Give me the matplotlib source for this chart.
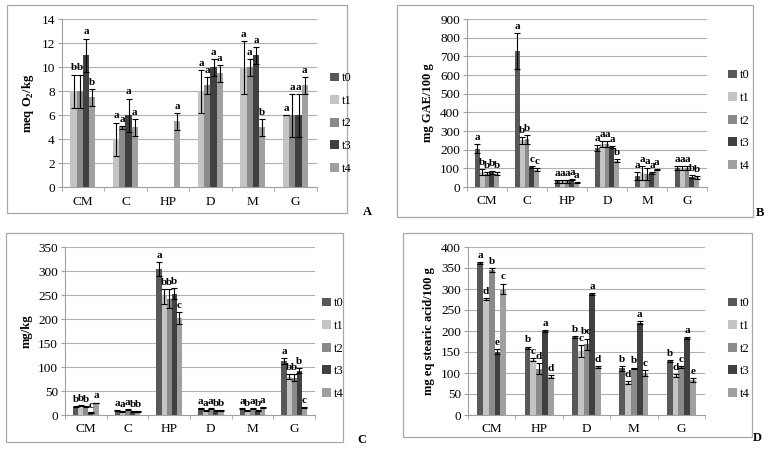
import matplotlib
matplotlib.use("Agg")
import matplotlib.pyplot as plt
import numpy as np
from matplotlib.patches import Rectangle, Patch

plt.rcParams['font.family'] = ['Liberation Serif', 'DejaVu Serif']
plt.rcParams['mathtext.fontset'] = 'custom'
plt.rcParams['mathtext.bf'] = 'Liberation Serif:bold'
plt.rcParams['mathtext.rm'] = 'Liberation Serif'

series = ["t0", "t1", "t2", "t3", "t4"]
colors = {"t0": "#585858", "t1": "#c4c4c4", "t2": "#8a8a8a", "t3": "#404040", "t4": "#a0a0a0"}

# Panel A (t0 not plotted)
cats_A = ["CM", "C", "HP", "D", "M", "G"]
ser_A = ["t1", "t2", "t3", "t4"]
vals_A = {
    "t1": [8, 4, np.nan, 8, 10, 6],
    "t2": [8, 5, np.nan, 8.5, 10, 6],
    "t3": [11, 6, np.nan, 10, 11, 6],
    "t4": [7.5, 5, 5.5, 9.5, 5, 8.5],
}
err_A = {
    "t1": [1.4, 1.4, 0, 1.8, 2.2, 0],
    "t2": [1.4, 0.1, 0, 0.7, 0.7, 1.8],
    "t3": [1.4, 1.4, 0, 0.7, 0.7, 1.8],
    "t4": [0.7, 0.7, 0.7, 0.7, 0.7, 0.7],
}
let_A = {
    "t1": ["b", "a", "", "a", "a", "a"],
    "t2": ["b", "a", "", "a", "a", "a"],
    "t3": ["a", "a", "", "a", "a", "a"],
    "t4": ["b", "a", "a", "a", "b", "a"],
}

# Panel B
cats_B = ["CM", "C", "HP", "D", "M", "G"]
vals_B = {
    "t0": [205, 730, 30, 210, 60, 100],
    "t1": [80, 250, 30, 230, 75, 100],
    "t2": [72, 255, 30, 230, 70, 100],
    "t3": [78, 105, 38, 215, 75, 55],
    "t4": [72, 92, 22, 140, 92, 52],
}
err_B = {
    "t0": [25, 97, 8, 15, 20, 10],
    "t1": [15, 20, 8, 15, 35, 10],
    "t2": [8, 25, 8, 15, 30, 10],
    "t3": [10, 5, 3, 5, 5, 8],
    "t4": [8, 8, 3, 8, 3, 8],
}
let_B = {
    "t0": ["a", "a", "a", "a", "a", "a"],
    "t1": ["b", "b", "a", "a", "a", "a"],
    "t2": ["b", "b", "a", "a", "a", "a"],
    "t3": ["b", "c", "a", "a", "a", "b"],
    "t4": ["b", "c", "a", "b", "a", "b"],
}

# Panel C
cats_C = ["CM", "C", "HP", "D", "M", "G"]
vals_C = {
    "t0": [17, 9, 304, 14, 13, 113],
    "t1": [19, 8, 247, 10, 10, 80],
    "t2": [17, 11, 242, 13, 14, 78],
    "t3": [6, 7, 253, 9, 9, 92],
    "t4": [25, 8, 202, 9, 16, 16],
}
err_C = {
    "t0": [1, 1, 15, 1, 1, 6],
    "t1": [1, 1, 15, 1, 1, 6],
    "t2": [1, 1, 20, 1, 1, 7],
    "t3": [1, 1, 12, 1, 1, 5],
    "t4": [1, 1, 13, 1, 1, 1],
}
let_C = {
    "t0": ["b", "a", "a", "a", "a", "a"],
    "t1": ["b", "a", "b", "a", "b", "b"],
    "t2": ["b", "a", "b", "a", "a", "b"],
    "t3": ["c", "b", "b", "b", "b", "b"],
    "t4": ["a", "b", "c", "b", "a", "c"],
}

# Panel D
cats_D = ["CM", "HP", "D", "M", "G"]
vals_D = {
    "t0": [362, 160, 185, 111, 128],
    "t1": [276, 132, 152, 77, 94],
    "t2": [345, 110, 168, 111, 114],
    "t3": [151, 200, 288, 220, 183],
    "t4": [300, 91, 114, 100, 83],
}
err_D = {
    "t0": [3, 3, 2, 6, 2],
    "t1": [3, 4, 14, 3, 3],
    "t2": [5, 13, 14, 2, 3],
    "t3": [6, 2, 3, 3, 2],
    "t4": [13, 4, 3, 8, 5],
}
let_D = {
    "t0": ["a", "b", "b", "b", "b"],
    "t1": ["d", "c", "c", "d", "d"],
    "t2": ["b", "d", "bc", "b", "c"],
    "t3": ["e", "a", "a", "a", "a"],
    "t4": ["c", "d", "d", "c", "e"],
}

fig = plt.figure(figsize=(7.71, 4.5), dpi=100)
W, H = 771.0, 450.0


def fr(x0, y0, x1, y1):
    return [x0 / W, 1 - y1 / H, (x1 - x0) / W, (y1 - y0) / H]


def border(x0, y0, x1, y1):
    fig.patches.append(Rectangle((x0 / W, 1 - y1 / H), (x1 - x0) / W, (y1 - y0) / H,
                                 transform=fig.transFigure, fill=False,
                                 edgecolor="#a8a8a8", linewidth=0.9))


def panel(rect, cats, sers, vals, errs, lets, ymax, ystep, ylabel, legpos, letter, letpos, bw_total):
    ax = fig.add_axes(rect)
    n = len(sers)
    bw = bw_total / n
    x = np.arange(len(cats))
    for i, s in enumerate(sers):
        xs = x - bw_total / 2 + bw * (i + 0.5)
        v = np.array(vals[s], dtype=float)
        e = np.array(errs[s], dtype=float)
        ax.bar(xs, v, width=bw, color=colors[s], zorder=2)
        ok = ~np.isnan(v)
        ax.errorbar(xs[ok], v[ok], yerr=e[ok], fmt='none', ecolor='black',
                    elinewidth=0.8, capsize=2.2, capthick=0.8, zorder=3)
        for j in range(len(cats)):
            if ok[j] and lets[s][j]:
                ax.annotate(lets[s][j], (xs[j], v[j] + e[j]), xytext=(0, 1.5),
                            textcoords='offset points', ha='center', va='bottom',
                            fontsize=8, fontweight='bold', zorder=4)
    ax.set_xlim(-0.5, len(cats) - 0.5)
    ax.set_ylim(0, ymax)
    ax.set_yticks(np.arange(0, ymax + ystep / 2, ystep))
    ax.set_xticks(x)
    ax.set_xticklabels(cats, fontsize=9.5)
    ax.set_xticks(np.arange(-0.5, len(cats), 1), minor=True)
    ax.tick_params(axis='x', which='major', length=0, pad=6)
    ax.tick_params(axis='x', which='minor', length=3, color='#a0a0a0')
    ax.tick_params(axis='y', labelsize=9.5, length=3, color='#a0a0a0', pad=2)
    ax.yaxis.grid(True, color='#b0b0b0', linewidth=0.8, zorder=0)
    ax.set_axisbelow(True)
    for sp in ['top', 'right']:
        ax.spines[sp].set_visible(False)
    for sp in ['left', 'bottom']:
        ax.spines[sp].set_color('#a0a0a0')
        ax.spines[sp].set_linewidth(0.8)
    ax.set_ylabel(ylabel, fontsize=9, fontweight='bold', labelpad=4)
    handles = [Patch(facecolor=colors[s], label=s) for s in series]
    fig.legend(handles=handles, loc='upper left', bbox_to_anchor=(legpos[0] / W, 1 - legpos[1] / H),
               frameon=False, fontsize=9, handlelength=0.7, handleheight=0.7,
               handletextpad=0.2, labelspacing=0.85, borderpad=0)
    fig.text(letpos[0] / W, 1 - letpos[1] / H, letter, fontsize=9, fontweight='bold',
             ha='center', va='center')
    return ax


border(7, 5, 347, 213)
border(397, 5, 753, 217)
border(6, 233, 343, 442)
border(403, 233, 752, 437)

panel(fr(61.7, 19.3, 316.7, 187.3), cats_A, ser_A, vals_A, err_A, let_A, 14, 2,
      r"meq O$_\mathbf{2}$/kg", (324, 66), "A", (367, 212), 0.59)
panel(fr(467, 19, 707, 187), cats_B, series, vals_B, err_B, let_B, 900, 100,
      "mg GAE/100 g", (722, 63), "B", (760, 213), 0.61)
panel(fr(65, 247, 315, 415), cats_C, series, vals_C, err_C, let_C, 350, 50,
      "mg/kg", (316, 291), "C", (362, 440), 0.61)
panel(fr(468, 247, 705, 415), cats_D, series, vals_D, err_D, let_D, 400, 50,
      "mg eq stearic acid/100 g", (722, 291), "D", (757, 438), 0.61)

fig.savefig("out.png", dpi=100)
